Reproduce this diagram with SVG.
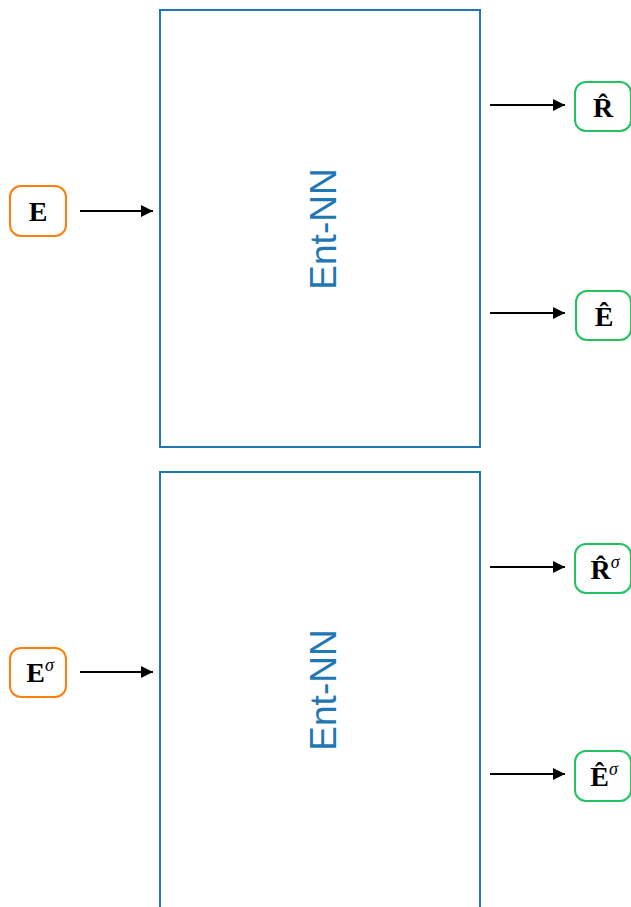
<svg xmlns="http://www.w3.org/2000/svg" width="631" height="907" viewBox="0 0 631 907">
<defs>
<style>
.box{fill:none;stroke:#1f77b4;stroke-width:2}
.lbl{font-family:"Liberation Sans",Arial,sans-serif;font-size:37px;fill:#1f77b4;text-anchor:middle}
.in{fill:#fff;stroke:#ff7f0e;stroke-width:2}
.out{fill:#fff;stroke:#22c35e;stroke-width:2}
.m{font-family:"Liberation Serif","Times New Roman",serif;font-size:28px;font-weight:bold;fill:#000;text-anchor:middle}
.s{font-size:18px;font-style:italic;font-weight:normal}
.c{stroke:#000;stroke-width:2;fill:none;marker-end:url(#ah)}
</style>
<marker id="ah" viewBox="0 0 10 10" refX="10" refY="5" markerWidth="6" markerHeight="6" markerUnits="strokeWidth" orient="auto">
<path d="M0,0 L10,5 L0,10 z" fill="#000"/>
</marker>
</defs>
<g id="entnn1"><rect class="box" x="160" y="10" width="320" height="437"/><text class="lbl" transform="translate(336,229) rotate(-90)">Ent-NN</text></g>
<g id="entnn2"><rect class="box" x="160" y="472" width="320" height="437"/><text class="lbl" transform="translate(336,690) rotate(-90)">Ent-NN</text></g>
<g id="E"><rect class="in" x="10" y="186" width="56" height="50" rx="11"/><text class="m" x="38" y="221">E</text></g>
<g id="Esigma"><rect class="in" x="10" y="648" width="56" height="49" rx="11"/><text class="m" x="40" y="682">E<tspan class="s" dy="-11">σ</tspan></text></g>
<g id="Rhat"><rect class="out" x="575" y="82" width="56" height="49" rx="11"/><text class="m" x="603" y="117">R̂</text></g>
<g id="Ehat"><rect class="out" x="576" y="291" width="55" height="49" rx="11"/><text class="m" x="604" y="326">Ê</text></g>
<g id="Rhatsigma"><rect class="out" x="575" y="544" width="56" height="49" rx="11"/><text class="m" x="605" y="579">R̂<tspan class="s" dy="-11">σ</tspan></text></g>
<g id="Ehatsigma"><rect class="out" x="575" y="751" width="56" height="50" rx="11"/><text class="m" x="604" y="786">Ê<tspan class="s" dy="-11">σ</tspan></text></g>
<g id="connectors">
<line class="c" x1="80" y1="211" x2="153" y2="211"/>
<line class="c" x1="80" y1="672" x2="153" y2="672"/>
<line class="c" x1="490" y1="105" x2="565" y2="105"/>
<line class="c" x1="490" y1="313" x2="565" y2="313"/>
<line class="c" x1="490" y1="567" x2="565" y2="567"/>
<line class="c" x1="490" y1="774" x2="565" y2="774"/>
</g>
</svg>
